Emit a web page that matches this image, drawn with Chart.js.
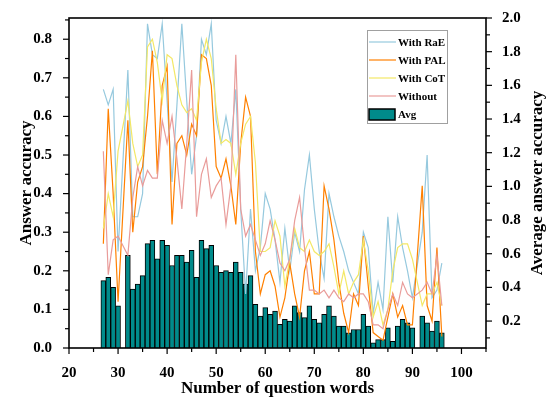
<!DOCTYPE html>
<html>
<head>
<meta charset="utf-8">
<script src="https://cdn.jsdelivr.net/npm/chart.js@4.4.1/dist/chart.umd.min.js"></script>
<style>
  html, body { margin: 0; padding: 0; background: #fff; }
</style>
</head>
<body>
<canvas id="chart" width="549" height="400"></canvas>
<script>
'use strict';

// number of question words (no questions with 31 or 91 words)
const words = [
    27, 28, 29, 30,
    32, 33, 34, 35, 36, 37, 38, 39, 40, 41,
    42, 43, 44, 45, 46, 47, 48, 49, 50, 51,
    52, 53, 54, 55, 56, 57, 58, 59, 60, 61,
    62, 63, 64, 65, 66, 67, 68, 69, 70, 71,
    72, 73, 74, 75, 76, 77, 78, 79, 80, 81,
    82, 83, 84, 85, 86, 87, 88, 89, 90,
    92, 93, 94, 95, 96
];

// answer accuracy (left axis)
const withRaE = [
    0.67, 0.63, 0.67, 0.25,
    0.72, 0.34, 0.34, 0.40, 0.84, 0.76, 0.75, 0.84, 0.64, 0.43,
    0.63, 0.84, 0.64, 0.45, 0.55, 0.80, 0.76, 0.84, 0.59, 0.53,
    0.60, 0.53, 0.67, 0.36, 0.14, 0.36, 0.20, 0.26, 0.40, 0.36,
    0.28, 0.17, 0.31, 0.20, 0.30, 0.25, 0.41, 0.50, 0.36, 0.25,
    0.18, 0.40, 0.34, 0.29, 0.25, 0.20, 0.17, 0.14, 0.30, 0.26,
    0.09, 0.17, 0.10, 0.34, 0.17, 0.34, 0.26, 0.20, 0.13,
    0.30, 0.50, 0.13, 0.15, 0.22
];
const withPAL = [
    0.27, 0.62, 0.40, 0.12,
    0.59, 0.30, 0.43, 0.47, 0.60, 0.77, 0.45, 0.68, 0.73, 0.32,
    0.53, 0.55, 0.50, 0.58, 0.55, 0.76, 0.75, 0.68, 0.47, 0.44,
    0.49, 0.42, 0.32, 0.53, 0.65, 0.60, 0.25, 0.14, 0.19, 0.20,
    0.16, 0.08, 0.13, 0.22, 0.14, 0.08, 0.20, 0.25, 0.14, 0.14,
    0.42, 0.36, 0.28, 0.17, 0.09, 0.04, 0.14, 0.11, 0.29, 0.16,
    0.04, 0.03, 0.02, 0.08, 0.14, 0.08, 0.11, 0.06, 0.06,
    0.42, 0.11, 0.07, 0.26, 0.03
];
const withCoT = [
    0.31, 0.40, 0.34, 0.51,
    0.64, 0.53, 0.47, 0.50, 0.78, 0.80, 0.74, 0.64, 0.76, 0.75,
    0.68, 0.63, 0.61, 0.62, 0.59, 0.74, 0.80, 0.75, 0.62, 0.53,
    0.54, 0.53, 0.45, 0.53, 0.58, 0.60, 0.48, 0.25, 0.25, 0.26,
    0.33, 0.29, 0.16, 0.23, 0.31, 0.26, 0.25, 0.28, 0.25, 0.24,
    0.25, 0.27, 0.21, 0.14, 0.20, 0.14, 0.17, 0.19, 0.28, 0.20,
    0.08, 0.12, 0.06, 0.10, 0.20, 0.26, 0.27, 0.27, 0.23,
    0.11, 0.14, 0.14, 0.17, 0.11
];
const without = [
    0.51, 0.19, 0.28, 0.29,
    0.24, 0.39, 0.47, 0.42, 0.46, 0.44, 0.44, 0.59, 0.53, 0.60,
    0.49, 0.36, 0.53, 0.72, 0.34, 0.45, 0.49, 0.39, 0.42, 0.44,
    0.32, 0.42, 0.76, 0.36, 0.29, 0.32, 0.28, 0.24, 0.27, 0.33,
    0.28, 0.22, 0.20, 0.23, 0.33, 0.39, 0.26, 0.15, 0.15, 0.14,
    0.15, 0.13, 0.15, 0.13, 0.12, 0.14, 0.13, 0.14, 0.14, 0.12,
    0.06, 0.06, 0.05, 0.10, 0.14, 0.11, 0.17, 0.14, 0.13,
    0.15, 0.17, 0.14, 0.24, 0.11
];

// average answer accuracy (right axis)
const avgAcc = [
    0.44, 0.46, 0.40, 0.29,
    0.59, 0.39, 0.42, 0.47, 0.66, 0.68, 0.57, 0.68, 0.65, 0.53,
    0.59, 0.59, 0.55, 0.62, 0.46, 0.68, 0.63, 0.65, 0.53, 0.49,
    0.50, 0.49, 0.55, 0.49, 0.42, 0.47, 0.30, 0.23, 0.28, 0.24,
    0.26, 0.18, 0.21, 0.20, 0.29, 0.25, 0.22, 0.29, 0.21, 0.19,
    0.24, 0.29, 0.23, 0.17, 0.17, 0.13, 0.15, 0.15, 0.24, 0.17,
    0.07, 0.09, 0.09, 0.16, 0.08, 0.17, 0.21, 0.19, 0.16,
    0.23, 0.19, 0.14, 0.20, 0.13
];

const serif = "'Liberation Serif', 'Times New Roman', serif";

const toPoints = (ys) => words.map((x, i) => ({ x: x, y: ys[i] }));

const lineSet = (label, ys, color, order) => ({
    type: 'line',
    label: label,
    data: toPoints(ys),
    borderColor: color,
    backgroundColor: color,
    borderWidth: 1.2,
    pointRadius: 0,
    tension: 0,
    yAxisID: 'y',
    order: order
});

// draws the frame, outward major/minor ticks, right title and the boxed legend
const origin = {
    id: 'origin',
    afterDraw(chart) {
        const { ctx, chartArea: a, scales } = chart;
        ctx.save();
        ctx.strokeStyle = '#000';
        ctx.lineWidth = 1.6;
        ctx.strokeRect(a.left, a.top, a.right - a.left, a.bottom - a.top);

        ctx.lineWidth = 1.2;
        const tick = (x1, y1, x2, y2) => {
            ctx.beginPath();
            ctx.moveTo(x1, y1);
            ctx.lineTo(x2, y2);
            ctx.stroke();
        };
        for (let v = 20; v <= 105; v += 5) {
            const px = scales.x.getPixelForValue(v);
            tick(px, a.bottom, px, a.bottom + (v % 10 === 0 ? 6 : 4));
        }
        for (let k = 0; k <= 17; k++) {
            const py = scales.y.getPixelForValue(k * 0.05);
            if (py < a.top) continue;
            tick(a.left, py, a.left - (k % 2 === 0 ? 6 : 4), py);
        }
        for (let k = 1; k <= 20; k++) {
            const py = scales.y1.getPixelForValue(k * 0.1);
            tick(a.right, py, a.right + (k % 2 === 0 ? 6 : 4), py);
        }

        // right axis title, reading bottom to top like the left one
        ctx.save();
        ctx.translate(538, (a.top + a.bottom) / 2);
        ctx.rotate(-Math.PI / 2);
        ctx.fillStyle = '#000';
        ctx.font = 'bold 17px ' + serif;
        ctx.textAlign = 'center';
        ctx.textBaseline = 'middle';
        ctx.fillText('Average answer accuracy', 0, 0);
        ctx.restore();

        // legend box
        const lx = a.right - 119, ly = a.top + 12;
        ctx.fillStyle = '#fff';
        ctx.fillRect(lx, ly, 80, 93);
        ctx.strokeStyle = '#a0a0a0';
        ctx.lineWidth = 1;
        ctx.strokeRect(lx + 0.5, ly + 0.5, 80, 93);
        ctx.font = 'bold 11px ' + serif;
        ctx.textBaseline = 'middle';
        ctx.textAlign = 'left';
        chart.data.datasets.forEach((ds, i) => {
            const cy = ly + 12 + i * 18;
            if (ds.type === 'bar') {
                ctx.fillStyle = ds.backgroundColor;
                ctx.fillRect(lx + 2, cy - 5, 26, 11);
                ctx.strokeStyle = '#000';
                ctx.lineWidth = 1.5;
                ctx.strokeRect(lx + 2, cy - 5, 26, 11);
            } else {
                ctx.strokeStyle = ds.borderColor;
                ctx.lineWidth = 1.2;
                tick(lx + 2, cy, lx + 29, cy);
            }
            ctx.fillStyle = '#000';
            ctx.fillText(ds.label, lx + 31, cy + 1);
        });
        ctx.restore();
    }
};

const tickFont = { family: serif, size: 15, weight: 'bold' };
const titleFont = { family: serif, size: 17, weight: 'bold' };

new Chart(document.getElementById('chart'), {
    type: 'line',
    data: {
        datasets: [
            lineSet('With RaE', withRaE, '#96c9de', 4),
            lineSet('With PAL', withPAL, '#ff8000', 3),
            lineSet('With CoT', withCoT, '#f3e866', 2),
            lineSet('Without', without, '#e99c9a', 1),
            {
                type: 'bar',
                label: 'Avg',
                data: toPoints(avgAcc),
                backgroundColor: '#008b8b',
                borderColor: '#000',
                borderWidth: 1,
                borderSkipped: false,
                barPercentage: 1,
                categoryPercentage: 1,
                yAxisID: 'y1',
                order: 5
            }
        ]
    },
    options: {
        responsive: false,
        animation: false,
        devicePixelRatio: 1,
        layout: { padding: { top: 12, left: 0, right: 0, bottom: 0 } },
        plugins: { legend: { display: false }, tooltip: { enabled: false } },
        scales: {
            x: {
                type: 'linear',
                min: 20,
                max: 105,
                offset: false,
                grid: { display: false },
                border: { display: false },
                ticks: { stepSize: 10, includeBounds: false, color: '#000', font: tickFont, padding: 8, maxRotation: 0 },
                title: { display: true, text: 'Number of question words', color: '#000', font: titleFont, padding: { top: 0, bottom: 1 } },
                afterFit: (s) => { s.height = 52; }
            },
            y: {
                position: 'left',
                min: 0,
                max: 0.855,
                grid: { display: false },
                border: { display: false },
                ticks: { stepSize: 0.1, includeBounds: false, color: '#000', font: tickFont, padding: 9, callback: (v) => v.toFixed(1) },
                title: { display: true, text: 'Answer accuracy', color: '#000', font: titleFont, padding: { top: 16, bottom: 0 } },
                afterFit: (s) => { s.width = 69; }
            },
            y1: {
                position: 'right',
                min: 0.04,
                max: 2.0,
                grid: { display: false },
                border: { display: false },
                ticks: { stepSize: 0.2, includeBounds: false, color: '#000', font: tickFont, padding: 8, callback: (v) => v.toFixed(1) },
                afterFit: (s) => { s.width = 63; }
            }
        }
    },
    plugins: [origin]
});
</script>
</body>
</html>
